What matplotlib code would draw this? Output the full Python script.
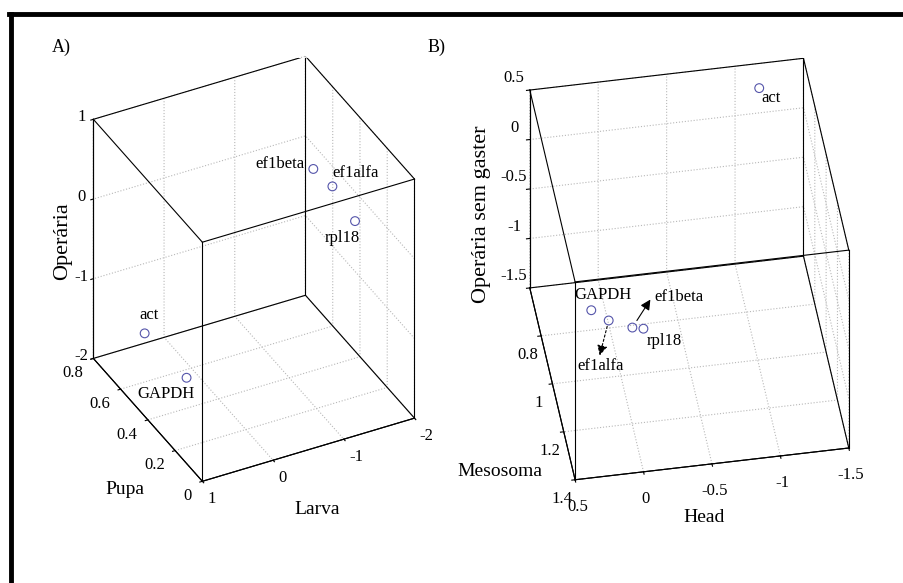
import matplotlib
matplotlib.use("Agg")
import matplotlib.pyplot as plt
from matplotlib.transforms import offset_copy
from mpl_toolkits.mplot3d import proj3d
import itertools

plt.rcParams['font.family'] = ['Liberation Serif', 'DejaVu Serif']
plt.rcParams['axes.unicode_minus'] = False
plt.rcParams['grid.color'] = '#b8b8b8'
plt.rcParams['grid.linestyle'] = ':'
plt.rcParams['grid.linewidth'] = 0.8

# panel A: Larva / Pupa / Operaria
genes_a = ["ef1beta", "ef1alfa", "rpl18", "act", "GAPDH"]
pupa = [0.40, 0.40, 0.40, 0.60, 0.50]
larva = [-1.34, -1.61, -1.93, 0.66, 0.26]
operaria = [0.53, 0.24, -0.28, -1.39, -1.86]

# panel B: Head / Mesosoma / Operaria sem gaster
genes_b = ["act", "GAPDH", "ef1alfa", "ef1beta", "rpl18"]
head = [-1.16, 0.15, 0.06, -0.08, -0.14]
mesosoma = [0.64, 0.84, 0.93, 1.01, 1.06]
sem_gaster = [0.35, -1.20, -1.10, -1.00, -0.90]

pupa_ticks = [0, 0.2, 0.4, 0.6, 0.8]
larva_ticks = [-2, -1, 0, 1]
oper_ticks = [-2, -1, 0, 1]
head_ticks = [-1.5, -1, -0.5, 0, 0.5]
meso_ticks = [0.8, 1, 1.2, 1.4]
gaster_ticks = [-1.5, -1, -0.5, 0, 0.5]

MARKER_COLOR = '#5555aa'
W, H = 904, 583


def fmt(v):
    return f"{v:g}"


def style_axes(ax):
    for axis in (ax.xaxis, ax.yaxis, ax.zaxis):
        axis.pane.fill = False
        axis.pane.set_edgecolor('none')
        axis.line.set_color('k')
        axis.line.set_linewidth(0.8)
        axis._axinfo['tick']['inward_factor'] = 0.15
        axis._axinfo['tick']['outward_factor'] = 0.0
    ax.tick_params(labelsize=12, pad=0)
    ax.grid(True)


def align_ticklabels(axis, ha=None, va=None):
    for lbl in axis.get_majorticklabels():
        if ha:
            lbl.set_ha(ha)
        if va:
            lbl.set_va(va)


def draw_box(ax):
    xl, yl, zl = ax.get_xlim(), ax.get_ylim(), ax.get_zlim()
    corners = list(itertools.product(xl, yl, zl))
    for a, b in itertools.combinations(corners, 2):
        same = sum(1 for i in range(3) if a[i] == b[i])
        if same == 2:
            ax.plot([a[0], b[0]], [a[1], b[1]], [a[2], b[2]],
                    color='k', lw=0.8)


def project(ax, x, y, z):
    xp, yp, _ = proj3d.proj_transform(x, y, z, ax.get_proj())
    return xp, yp


def label_px(text, px, py, size=14, rot=0):
    fig.text(px / W, 1 - py / H, text, fontsize=size, rotation=rot,
             ha='center', va='center')


fig = plt.figure(figsize=(9.04, 5.83), dpi=100)

# ---- panel A
ax1 = fig.add_axes([0.0344, 0.079, 0.48, 0.9], projection='3d', proj_type='ortho')
ax1.set_xlim(0, 0.8)
ax1.set_ylim(-2, 1)
ax1.set_zlim(-2, 1)
ax1.set_box_aspect((1, 1, 1.23))
ax1.view_init(elev=35.4, azim=152.8)
style_axes(ax1)
ax1.set_xticks(pupa_ticks, [fmt(v) for v in pupa_ticks])
ax1.set_yticks(larva_ticks, [fmt(v) for v in larva_ticks])
ax1.set_zticks(oper_ticks, [fmt(v) for v in oper_ticks])
ax1.zaxis.set_ticks_position('upper')
ax1.zaxis.set_tick_params(pad=-2)
align_ticklabels(ax1.xaxis, ha='right', va='center')
align_ticklabels(ax1.yaxis, ha='left', va='center')
align_ticklabels(ax1.zaxis, va='center')
draw_box(ax1)
ax1.scatter(pupa, larva, operaria, marker='o', s=40, facecolors='none',
            edgecolors=MARKER_COLOR, linewidths=0.8, depthshade=False)

offs_a = {"ef1beta": (-9, 5, 'right'), "ef1alfa": (0, 13, 'left'),
          "rpl18": (-13, -17, 'center'), "act": (4, 18, 'center'),
          "GAPDH": (-21, -16, 'center')}
for g, x, y, z in zip(genes_a, pupa, larva, operaria):
    dx, dy, ha = offs_a[g]
    xp, yp = project(ax1, x, y, z)
    ax1.text2D(xp, yp, g, fontsize=12, ha=ha, va='center',
               transform=offset_copy(ax1.transData, fig=fig, x=dx, y=dy, units='dots'))

# ---- panel B
ax2 = fig.add_axes([0.516, 0.0785, 0.48, 0.9], projection='3d', proj_type='ortho')
ax2.set_xlim(-1.5, 0.5)
ax2.set_ylim(0.6, 1.4)
ax2.set_zlim(-1.5, 0.5)
ax2.set_box_aspect((1, 1, 1.0), zoom=1.075)
ax2.view_init(elev=44.5, azim=80.6)
style_axes(ax2)
ax2.set_xticks(head_ticks, [fmt(v) for v in head_ticks])
ax2.set_yticks(meso_ticks, [fmt(v) for v in meso_ticks])
ax2.set_zticks(gaster_ticks, [fmt(v) for v in gaster_ticks])
align_ticklabels(ax2.zaxis, va='baseline')
draw_box(ax2)
ax2.scatter(head, mesosoma, sem_gaster, marker='o', s=40, facecolors='none',
            edgecolors=MARKER_COLOR, linewidths=0.8, depthshade=False)

offs_b = {"act": (12, -10), "GAPDH": (12, 15), "ef1alfa": (-8, -46),
          "ef1beta": (47, 31), "rpl18": (21, -12)}
for g, x, y, z in zip(genes_b, head, mesosoma, sem_gaster):
    dx, dy = offs_b[g]
    xp, yp = project(ax2, x, y, z)
    ax2.annotate(g, xy=(xp, yp), xycoords='data', xytext=(dx, dy),
                 textcoords='offset pixels', fontsize=12, ha='center', va='center')

# arrows to the crowded labels
xp, yp = project(ax2, head[3], mesosoma[3], sem_gaster[3])
ax2.annotate('', xy=(xp, yp), xytext=(18, 28), textcoords='offset pixels',
             arrowprops=dict(arrowstyle='<|-', color='k', lw=0.8,
                             mutation_scale=15, shrinkA=0, shrinkB=6))
xp, yp = project(ax2, head[2], mesosoma[2], sem_gaster[2])
ax2.annotate('', xy=(xp, yp), xytext=(-9, -35), textcoords='offset pixels',
             arrowprops=dict(arrowstyle='<|-', color='k', lw=0.8, ls=(0, (2, 2)),
                             mutation_scale=15, shrinkA=0, shrinkB=4))

# axis titles
label_px('Pupa', 125, 490)
label_px('Larva', 317, 510)
label_px('Operária', 63, 241, size=16, rot=90)
label_px('Head', 704, 517)
label_px('Mesosoma', 500, 472)
label_px('Operária sem gaster', 482, 214, size=16, rot=90)

fig.text(52 / W, 1 - 47 / H, 'A)', fontsize=13, ha='left', va='center')
fig.text(428 / W, 1 - 47 / H, 'B)', fontsize=13, ha='left', va='center')

# partial frame (left and top edges)
fig.add_artist(plt.Line2D([10.5 / W, 10.5 / W], [0, 1 - 14 / H],
                          color='k', lw=3.5, transform=fig.transFigure))
fig.add_artist(plt.Line2D([9 / W, 1], [1 - 14 / H, 1 - 14 / H],
                          color='k', lw=3.5, transform=fig.transFigure))

fig.savefig('out.png', dpi=100)
